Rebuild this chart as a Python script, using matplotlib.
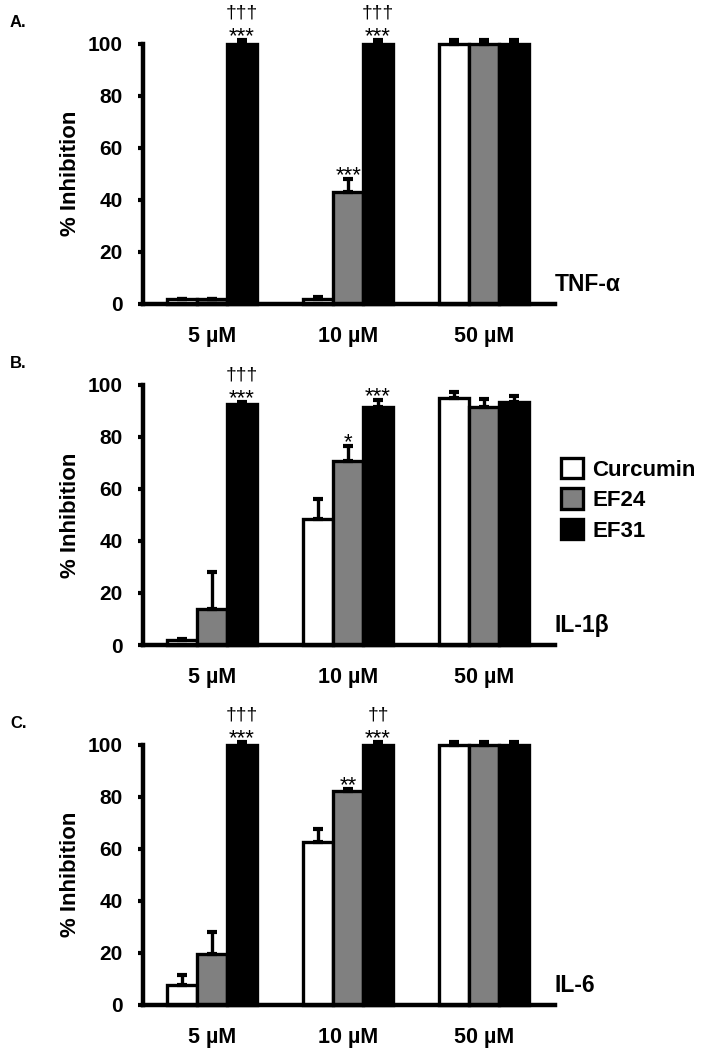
import matplotlib
matplotlib.use("Agg")
import matplotlib.pyplot as plt
import numpy as np

plt.rcParams["font.family"] = ["Liberation Sans", "DejaVu Sans"]
plt.rcParams["font.weight"] = "bold"

doses = ["5 µM", "10 µM", "50 µM"]
compounds = ["Curcumin", "EF24", "EF31"]
colors = ["white", "#808080", "black"]

# % inhibition and SEM, rows = compound, cols = dose
tnf_mean = [[2, 2, 100], [2, 43, 100], [100, 100, 100]]
tnf_err = [[0, 0.5, 1.5], [0, 5, 1.5], [1.5, 1.5, 1.5]]
il1_mean = [[2, 48.5, 95], [14, 70.5, 91.5], [92.5, 91.5, 93.5]]
il1_err = [[0.5, 7.5, 2.3], [14, 6, 3], [1, 2.7, 2]]
il6_mean = [[7.5, 62.5, 100], [19.5, 82, 100], [100, 100, 100]]
il6_err = [[4, 5, 1], [8.5, 1, 1], [1, 1, 1]]

# (compound index, dose index, text)
tnf_stars = [(2, 0, "***"), (1, 1, "***"), (2, 1, "***")]
tnf_daggers = [(2, 0, "†††"), (2, 1, "†††")]
il1_stars = [(2, 0, "***"), (1, 1, "*"), (2, 1, "***")]
il1_daggers = [(2, 0, "†††")]
il6_stars = [(2, 0, "***"), (1, 1, "**"), (2, 1, "***")]
il6_daggers = [(2, 0, "†††"), (2, 1, "††")]

panels = [
    ("A.", "TNF-α", tnf_mean, tnf_err, tnf_stars, tnf_daggers, 0.7105),
    ("B.", "IL-1β", il1_mean, il1_err, il1_stars, il1_daggers, 0.3857),
    ("C.", "IL-6", il6_mean, il6_err, il6_stars, il6_daggers, 0.0429),
]

fig = plt.figure(figsize=(7.04, 10.5), dpi=100)
x = np.arange(len(doses))
width = 0.22

for label, cyto, mean, err, stars, daggers, bottom in panels:
    ax = fig.add_axes([0.203, bottom, 0.585, 0.248])
    for i, name in enumerate(compounds):
        pos = x + (i - 1) * width
        ax.bar(pos, mean[i], width, color=colors[i], edgecolor="black",
               linewidth=2.4, label=name, clip_on=False, zorder=2)
        ax.errorbar(pos, mean[i], yerr=[np.zeros(3), err[i]], fmt="none",
                    ecolor="black", elinewidth=2.4, capsize=3.6, capthick=3,
                    clip_on=False, zorder=3)
    for i, j, s in stars:
        top = mean[i][j] + err[i][j]
        ax.text(x[j] + (i - 1) * width, top - 0.9, s, ha="center", va="baseline",
                fontsize=16, fontweight="normal", clip_on=False)
    for i, j, s in daggers:
        top = mean[i][j] + err[i][j]
        ax.text(x[j] + (i - 1) * width, top + 8.5, s, ha="center", va="baseline",
                fontsize=14, fontweight="normal", clip_on=False)

    ax.set_xlim(-0.51, 2.52)
    ax.set_ylim(0, 100)
    ax.set_yticks(range(0, 101, 20))
    ax.set_xticks(x)
    ax.set_xticklabels(doses)
    ax.tick_params(axis="x", length=0, pad=16, labelsize=15.5)
    ax.tick_params(axis="y", length=3.6, width=3, direction="out",
                   labelsize=15, pad=11)
    for sp in ["top", "right"]:
        ax.spines[sp].set_visible(False)
    for sp in ["left", "bottom"]:
        ax.spines[sp].set_linewidth(3.2)
    ax.set_ylabel("% Inhibition", fontsize=16, fontweight="bold", labelpad=5)
    ax.text(1.0, 0.075, cyto, transform=ax.transAxes, ha="left", va="center",
            fontsize=16.5, fontweight="bold")
    fig.text(0.0142, bottom + 0.268, label, ha="left", va="center",
             fontsize=12, fontweight="bold")

    if label == "B.":
        ax.legend(loc="upper left", bbox_to_anchor=(0.797, 0.564),
                  bbox_transform=fig.transFigure, frameon=False,
                  prop={"size": 16, "weight": "bold"}, handlelength=1.0,
                  handleheight=1.05, handletextpad=0.4, labelspacing=0.34,
                  borderpad=0, borderaxespad=0)

fig.savefig("out.png", dpi=100)
